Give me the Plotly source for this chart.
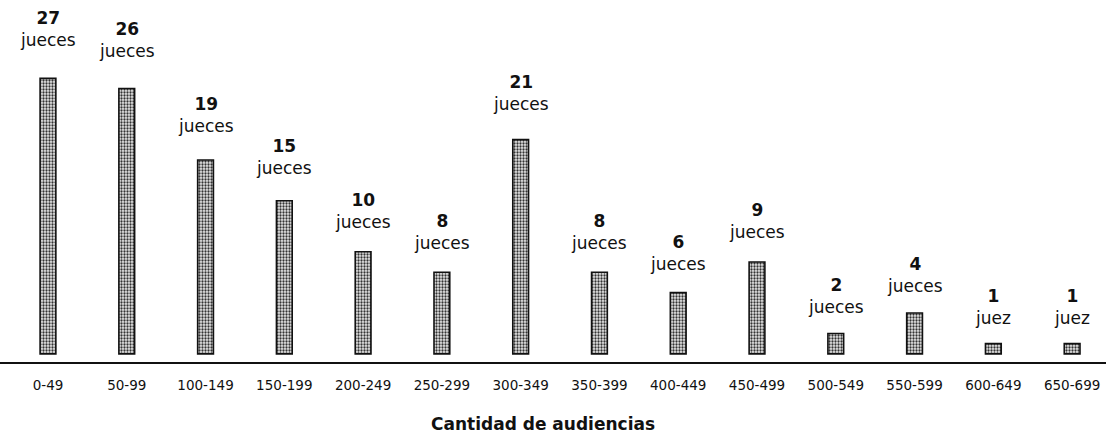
import plotly.graph_objects as go

categories = ["0-49", "50-99", "100-149", "150-199", "200-249", "250-299", "300-349",
              "350-399", "400-449", "450-499", "500-549", "550-599", "600-649", "650-699"]
judges = [27, 26, 19, 15, 10, 8, 21, 8, 6, 9, 2, 4, 1, 1]
unit_labels = ["jueces" if v != 1 else "juez" for v in judges]
x_title = "Cantidad de audiencias"

FONT = "DejaVu Sans"

fig = go.Figure()
fig.add_trace(go.Bar(
    x=categories,
    y=judges,
    width=0.2,
    marker=dict(
        color="#d9d9d9",
        line=dict(color="#111111", width=1.6),
        pattern=dict(shape=".", fgcolor="#333333", bgcolor="#e8e8e8",
                     size=3, solidity=0.45, fillmode="replace"),
    ),
    hoverinfo="skip",
))

for c, v, u in zip(categories, judges, unit_labels):
    fig.add_annotation(
        x=c, y=v, xref="x", yref="y",
        text=f"<b>{v}</b><br>{u}",
        showarrow=False, yanchor="bottom", yshift=13.5 + 0.46 * v,
        font=dict(family=FONT, size=17, color="#111111"),
        align="center",
    )

fig.add_annotation(
    x=0.491, y=-0.176, xref="paper", yref="paper",
    text=f"<b>{x_title}</b>", showarrow=False,
    xanchor="center", yanchor="middle",
    font=dict(family=FONT, size=17, color="#111111"),
)

fig.update_layout(
    width=1106, height=433,
    margin=dict(l=0, r=0, t=10, b=71),
    paper_bgcolor="white", plot_bgcolor="white",
    showlegend=False,
    bargap=0.8,
)
fig.update_xaxes(
    type="category",
    range=[-0.609, 13.43],
    showline=True, linecolor="#111111", linewidth=2,
    showgrid=False, ticks="outside", ticklen=10, tickcolor="rgba(0,0,0,0)",
    tickfont=dict(family=FONT, size=13.5, color="#111111"),
    automargin=False,
)
fig.update_yaxes(
    range=[-0.8, 33.7],
    visible=False, showgrid=False, zeroline=False,
)

fig.write_html(
    "out.html",
    config={"displayModeBar": False, "staticPlot": True},
    post_script="document.body.style.margin='0px';document.body.style.overflow='hidden';",
)
